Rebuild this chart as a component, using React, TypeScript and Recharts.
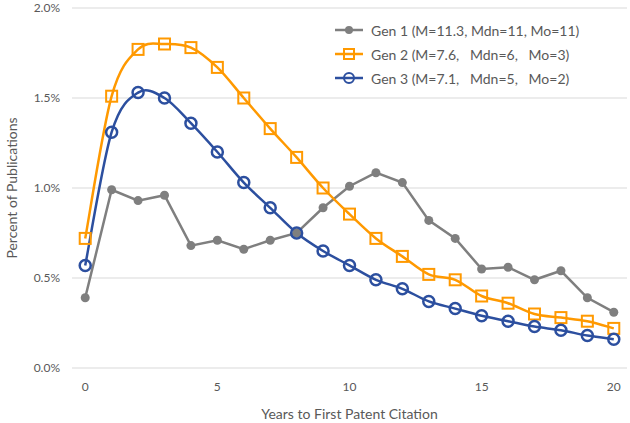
import React from "react";
import { LineChart, Line, XAxis, YAxis, CartesianGrid } from "recharts";

const years = [0, 1, 2, 3, 4, 5, 6, 7, 8, 9, 10, 11, 12, 13, 14, 15, 16, 17, 18, 19, 20];
const gen1 = [0.39, 0.99, 0.93, 0.96, 0.68, 0.71, 0.66, 0.71, 0.75, 0.89, 1.01, 1.085, 1.03, 0.82, 0.72, 0.55, 0.56, 0.49, 0.54, 0.39, 0.31];
const gen2 = [0.72, 1.51, 1.77, 1.8, 1.78, 1.67, 1.5, 1.33, 1.17, 1.0, 0.855, 0.72, 0.62, 0.52, 0.49, 0.4, 0.36, 0.3, 0.28, 0.26, 0.22];
const gen3 = [0.57, 1.31, 1.53, 1.5, 1.36, 1.2, 1.03, 0.89, 0.75, 0.65, 0.57, 0.49, 0.44, 0.37, 0.33, 0.29, 0.26, 0.23, 0.21, 0.18, 0.16];
const yTicks = [0, 0.5, 1, 1.5, 2];
const xLabelTicks = [0, 5, 10, 15, 20];
const xMarkTicks = [-0.5, 4.5, 9.5, 14.5, 19.5];

const legendNames = [
  "Gen 1 (M=11.3, Mdn=11, Mo=11)",
  "Gen 2 (M=7.6,   Mdn=6,   Mo=3)",
  "Gen 3 (M=7.1,   Mdn=5,   Mo=2)",
];

const GRAY = "#7f7f7f";
const ORANGE = "#ff9900";
const BLUE = "#2c4f9f";
const TEXT = "#595959";
const FONT = "Lato, 'Open Sans', sans-serif";

const data = years.map((y, i) => ({ year: y, g1: gen1[i], g2: gen2[i], g3: gen3[i] }));

// Excel-like smoothing: cubic bezier with Catmull-Rom style control points
const excelCurve = (context: any) => {
  let pts: [number, number][] = [];
  return {
    areaStart() {},
    areaEnd() {},
    lineStart() {
      pts = [];
    },
    point(x: number, y: number) {
      pts.push([x, y]);
    },
    lineEnd() {
      if (!pts.length) return;
      context.moveTo(pts[0][0], pts[0][1]);
      for (let i = 0; i < pts.length - 1; i++) {
        const p0 = pts[Math.max(0, i - 1)];
        const p1 = pts[i];
        const p2 = pts[i + 1];
        const p3 = pts[Math.min(pts.length - 1, i + 2)];
        context.bezierCurveTo(
          p1[0] + (p2[0] - p0[0]) / 6,
          p1[1] + (p2[1] - p0[1]) / 6,
          p2[0] - (p3[0] - p1[0]) / 6,
          p2[1] - (p3[1] - p1[1]) / 6,
          p2[0],
          p2[1]
        );
      }
    },
  };
};

const SquareDot = (props: any) => {
  const { cx, cy } = props;
  if (cx == null || cy == null) return null;
  return <rect x={cx - 5.5} y={cy - 5.5} width={11} height={11} fill="none" stroke={ORANGE} strokeWidth={2} />;
};

const CircleDot = (props: any) => {
  const { cx, cy } = props;
  if (cx == null || cy == null) return null;
  return <circle cx={cx} cy={cy} r={5.5} fill="none" stroke={BLUE} strokeWidth={2.5} />;
};

const GrayDot = (props: any) => {
  const { cx, cy } = props;
  if (cx == null || cy == null) return null;
  return <circle cx={cx} cy={cy} r={4.5} fill={GRAY} />;
};

const LegendIcon = ({ kind }: { kind: number }) => (
  <svg width={28} height={14} style={{ marginRight: 8, flexShrink: 0 }}>
    {kind === 0 && (
      <>
        <line x1={0} y1={7} x2={28} y2={7} stroke={GRAY} strokeWidth={2.5} />
        <circle cx={14} cy={7} r={4} fill={GRAY} />
      </>
    )}
    {kind === 1 && (
      <>
        <line x1={0} y1={7} x2={28} y2={7} stroke={ORANGE} strokeWidth={2.5} />
        <rect x={9} y={2} width={10} height={10} fill="none" stroke={ORANGE} strokeWidth={2} />
      </>
    )}
    {kind === 2 && (
      <>
        <line x1={0} y1={7} x2={28} y2={7} stroke={BLUE} strokeWidth={2.5} />
        <circle cx={14} cy={7} r={5} fill="none" stroke={BLUE} strokeWidth={2} />
      </>
    )}
  </svg>
);

const App = () => {
  return (
    <div style={{ position: "absolute", top: 0, left: 0, width: 630, height: 423, background: "#fff" }}>
      <LineChart width={630} height={423} data={data} margin={{ top: 8, right: 3, left: 0, bottom: 0 }}>
        <CartesianGrid vertical={false} stroke="#d9d9d9" strokeWidth={1} />
        <XAxis
          xAxisId="marks"
          dataKey="year"
          type="number"
          domain={[-0.5, 20.5]}
          ticks={xMarkTicks}
          height={0}
          tick={false}
          tickSize={5}
          tickLine={{ stroke: "#d9d9d9" }}
          axisLine={{ stroke: "#d9d9d9" }}
          allowDataOverflow
        />
        <XAxis
          dataKey="year"
          type="number"
          domain={[-0.5, 20.5]}
          ticks={xLabelTicks}
          height={55}
          tickLine={false}
          axisLine={false}
          tickSize={6}
          tickMargin={8}
          tick={{ fill: TEXT, fontSize: 12, fontFamily: FONT }}
          allowDataOverflow
          label={{
            value: "Years to First Patent Citation",
            position: "insideBottom",
            offset: 4,
            fill: TEXT,
            fontSize: 14,
            fontFamily: FONT,
          }}
        />
        <YAxis
          width={72}
          domain={[0, 2]}
          ticks={yTicks}
          tickFormatter={(v: number) => `${v.toFixed(1)}%`}
          axisLine={false}
          tickLine={false}
          tickSize={0}
          tickMargin={12}
          tick={{ fill: TEXT, fontSize: 12, fontFamily: FONT }}
          label={{
            value: "Percent of Publications",
            angle: -90,
            position: "insideLeft",
            offset: 12,
            style: { textAnchor: "middle" },
            fill: TEXT,
            fontSize: 14,
            fontFamily: FONT,
          }}
        />
        <Line
          dataKey="g1"
          type="linear"
          stroke={GRAY}
          strokeWidth={2.5}
          dot={<GrayDot />}
          activeDot={false}
          isAnimationActive={false}
        />
        <Line
          dataKey="g2"
          type={excelCurve as any}
          stroke={ORANGE}
          strokeWidth={2.5}
          dot={<SquareDot />}
          activeDot={false}
          isAnimationActive={false}
        />
        <Line
          dataKey="g3"
          type={excelCurve as any}
          stroke={BLUE}
          strokeWidth={2.5}
          dot={<CircleDot />}
          activeDot={false}
          isAnimationActive={false}
        />
      </LineChart>
      <div
        style={{
          position: "absolute",
          top: 18,
          left: 335,
          fontFamily: FONT,
          fontSize: 14,
          color: TEXT,
          background: "#fff",
        }}
      >
        {legendNames.map((name, i) => (
          <div key={name} style={{ display: "flex", alignItems: "center", height: 24 }}>
            <LegendIcon kind={i} />
            <span style={{ whiteSpace: "pre" }}>{name}</span>
          </div>
        ))}
      </div>
    </div>
  );
};

export default App;
